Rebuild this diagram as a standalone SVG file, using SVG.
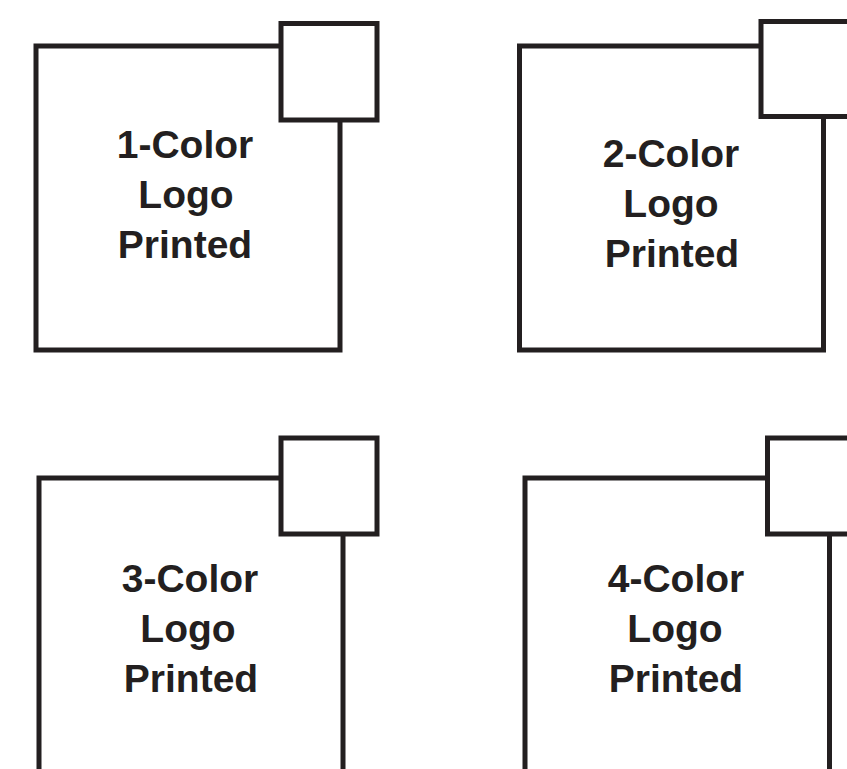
<svg xmlns="http://www.w3.org/2000/svg" width="847" height="769" viewBox="0 0 847 769">
<style>
.frame{fill:#fff;stroke:#231f20;stroke-width:5}
.tab{fill:#fff;stroke:#231f20;stroke-width:5}
.lbl{font-family:"Liberation Sans",Arial,sans-serif;font-weight:bold;font-size:39px;fill:#231f20;text-anchor:middle}
</style>
<rect width="847" height="769" fill="#fff"/>
<g id="box1">
<rect class="frame" x="36" y="46" width="304" height="304"/>
<rect class="tab" x="281" y="23.5" width="96" height="96.5"/>
<text class="lbl" x="185" y="158">1-Color</text>
<text class="lbl" x="186" y="208">Logo</text>
<text class="lbl" x="185" y="258">Printed</text>
</g>
<g id="box2">
<rect class="frame" x="519.5" y="46" width="304" height="304"/>
<rect class="tab" x="761" y="21.5" width="96" height="95"/>
<text class="lbl" x="671" y="167">2-Color</text>
<text class="lbl" x="671" y="217">Logo</text>
<text class="lbl" x="672" y="267">Printed</text>
</g>
<g id="box3">
<rect class="frame" x="39" y="478" width="304" height="330"/>
<rect class="tab" x="281" y="438" width="96" height="96"/>
<text class="lbl" x="190" y="592">3-Color</text>
<text class="lbl" x="188" y="642">Logo</text>
<text class="lbl" x="191" y="692">Printed</text>
</g>
<g id="box4">
<rect class="frame" x="525" y="478" width="304.5" height="330"/>
<rect class="tab" x="767.5" y="438" width="96" height="96"/>
<text class="lbl" x="676" y="592">4-Color</text>
<text class="lbl" x="675" y="642">Logo</text>
<text class="lbl" x="676" y="692">Printed</text>
</g>
<g id="connectors"/>
</svg>
